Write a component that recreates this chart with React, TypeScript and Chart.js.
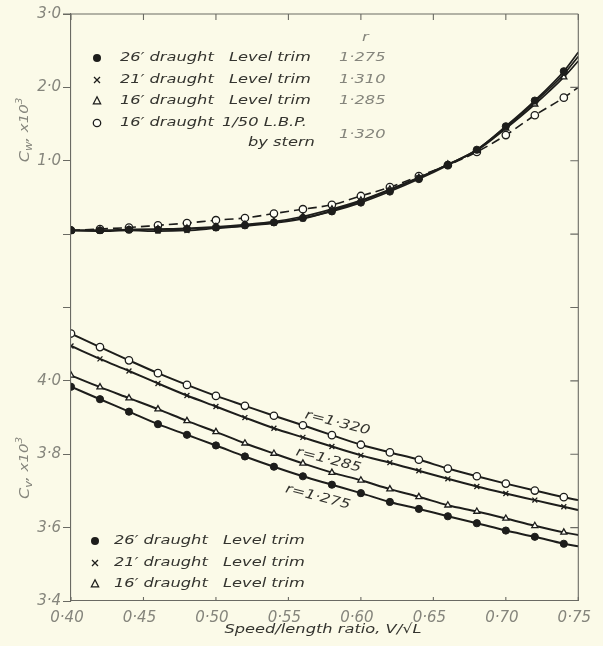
import React, { useEffect, useRef } from 'react';
import { Chart, registerables } from 'chart.js';

Chart.register(...registerables);

// ---------- data ----------
const speedRatio = [0.40, 0.42, 0.44, 0.46, 0.48, 0.50, 0.52, 0.54, 0.56, 0.58, 0.60, 0.62, 0.64, 0.66, 0.68, 0.70, 0.72, 0.74, 0.75];

// Cw x 10^3 (upper panel)
const cw26Level = [0.05, 0.05, 0.06, 0.06, 0.07, 0.09, 0.12, 0.16, 0.22, 0.31, 0.43, 0.58, 0.75, 0.94, 1.15, 1.47, 1.82, 2.22, 2.48];
const cw21Level = [0.05, 0.04, 0.05, 0.04, 0.05, 0.08, 0.11, 0.15, 0.21, 0.32, 0.45, 0.60, 0.77, 0.95, 1.15, 1.46, 1.80, 2.18, 2.42];
const cw16Level = [0.05, 0.05, 0.06, 0.07, 0.08, 0.10, 0.13, 0.17, 0.24, 0.34, 0.46, 0.61, 0.77, 0.95, 1.14, 1.44, 1.77, 2.14, 2.36];
const cw16Stern = [0.05, 0.07, 0.09, 0.12, 0.15, 0.19, 0.22, 0.28, 0.34, 0.40, 0.52, 0.64, 0.79, 0.94, 1.12, 1.35, 1.62, 1.86, 2.00];

// Cv x 10^3 (lower panel)
const cv26Level = [3.984, 3.950, 3.916, 3.882, 3.853, 3.824, 3.794, 3.766, 3.740, 3.717, 3.694, 3.670, 3.651, 3.631, 3.612, 3.592, 3.575, 3.556, 3.549];
const cv21Level = [4.095, 4.060, 4.027, 3.993, 3.960, 3.930, 3.900, 3.871, 3.846, 3.821, 3.797, 3.777, 3.755, 3.733, 3.712, 3.693, 3.675, 3.657, 3.648];
const cv16Level = [4.015, 3.983, 3.953, 3.923, 3.891, 3.861, 3.830, 3.802, 3.775, 3.750, 3.729, 3.705, 3.684, 3.661, 3.644, 3.625, 3.605, 3.587, 3.580];
const cv16Stern = [4.129, 4.092, 4.056, 4.021, 3.989, 3.959, 3.932, 3.905, 3.879, 3.852, 3.826, 3.805, 3.785, 3.761, 3.740, 3.720, 3.701, 3.683, 3.675];

// ticks
const xTicks = [0.40, 0.45, 0.50, 0.55, 0.60, 0.65, 0.70, 0.75];
const cwTicks = [1, 2];
const cvTicks = [3.6, 3.8, 4.0, 4.2, 4.4];

// legends
const topDraughts = ['26′ draught', '21′ draught', '16′ draught', '16′ draught'];
const topTrims = ['Level trim', 'Level trim', 'Level trim', '1/50 L.B.P.'];
const topTrimExtra = 'by stern';
const topR = ['1·275', '1·310', '1·285', '1·320'];
const markerKinds = ['filled', 'cross', 'triangle', 'open'];
const bottomDraughts = ['26′ draught', '21′ draught', '16′ draught'];
const bottomTrims = ['Level trim', 'Level trim', 'Level trim'];
const curveLabels = ['r=1·320', 'r=1·285', 'r=1·275'];
const curveLabelX = [0.5838, 0.5777, 0.5703];
const curveLabelY = [3.885, 3.784, 3.683];

// ---------- styles ----------
const BG = '#fbfae8';
const INK = '#1d1d1b';
const TEXT = '#34342f';
const GRAY = '#85857c';
const AXIS = '#6a6a63';
const FONT = '"DejaVu Sans", "Open Sans", sans-serif';
const STRETCH = 1.25;

const fmt = (v: number, d: number) => v.toFixed(d).replace('.', '·');

function sText(ctx: CanvasRenderingContext2D, text: string, x: number, y: number, size: number, align: CanvasTextAlign, color: string, rotate = 0) {
  ctx.save();
  ctx.translate(x, y);
  if (rotate) ctx.rotate(rotate);
  ctx.scale(STRETCH, 1);
  ctx.font = `italic ${size}px ${FONT}`;
  ctx.fillStyle = color;
  ctx.textAlign = align;
  ctx.textBaseline = 'middle';
  ctx.fillText(text, 0, 0);
  ctx.restore();
}

function drawMarker(ctx: CanvasRenderingContext2D, kind: string, x: number, y: number) {
  ctx.save();
  ctx.strokeStyle = INK;
  ctx.fillStyle = INK;
  ctx.lineWidth = 1.3;
  if (kind === 'filled') {
    ctx.beginPath(); ctx.arc(x, y, 4, 0, Math.PI * 2); ctx.fill();
  } else if (kind === 'open') {
    ctx.fillStyle = '#fffff6';
    ctx.beginPath(); ctx.arc(x, y, 3.7, 0, Math.PI * 2); ctx.fill(); ctx.stroke();
  } else if (kind === 'cross') {
    const s = 3;
    ctx.beginPath(); ctx.moveTo(x - s, y - s); ctx.lineTo(x + s, y + s); ctx.moveTo(x + s, y - s); ctx.lineTo(x - s, y + s); ctx.stroke();
  } else {
    ctx.beginPath(); ctx.moveTo(x, y - 4.2); ctx.lineTo(x + 3.6, y + 2.8); ctx.lineTo(x - 3.6, y + 2.8); ctx.closePath(); ctx.stroke();
  }
  ctx.restore();
}

function axisTitle(ctx: CanvasRenderingContext2D, cx: number, cy: number, sub: string) {
  const parts: [string, number, number][] = [['C', 14, 0], [sub, 10, 4], [', x10', 13, 0], ['3', 9, -5]];
  ctx.save();
  ctx.translate(cx, cy);
  ctx.rotate(-Math.PI / 2);
  ctx.scale(1.15, 1);
  ctx.fillStyle = GRAY;
  ctx.textBaseline = 'middle';
  ctx.textAlign = 'left';
  let total = 0;
  for (const [t, s] of parts) { ctx.font = `italic ${s}px ${FONT}`; total += ctx.measureText(t).width; }
  let x = -total / 2;
  for (const [t, s, dy] of parts) {
    ctx.font = `italic ${s}px ${FONT}`;
    ctx.fillText(t, x, dy);
    x += ctx.measureText(t).width;
  }
  ctx.restore();
}

const decorPlugin = {
  id: 'decor',
  beforeDraw(chart: any) {
    const ctx = chart.ctx as CanvasRenderingContext2D;
    ctx.save();
    ctx.fillStyle = BG;
    ctx.fillRect(0, 0, chart.width, chart.height);
    ctx.restore();
  },
  afterDraw(chart: any) {
    const ctx = chart.ctx as CanvasRenderingContext2D;
    const { left, right, top, bottom } = chart.chartArea;
    const xs = chart.scales.x, yw = chart.scales.yw, yv = chart.scales.yv;

    // frame (top & right) with inward ticks
    ctx.save();
    ctx.strokeStyle = AXIS;
    ctx.lineWidth = 1.1;
    ctx.beginPath();
    ctx.moveTo(left - 8, top); ctx.lineTo(right, top);
    ctx.moveTo(right, top); ctx.lineTo(right, bottom);
    ctx.stroke();
    ctx.beginPath();
    for (const v of xTicks) {
      const px = xs.getPixelForValue(v);
      ctx.moveTo(px, top); ctx.lineTo(px, top + 6);
      ctx.moveTo(px, bottom); ctx.lineTo(px, bottom - 4);
    }
    for (const v of cwTicks) {
      const py = yw.getPixelForValue(v);
      ctx.moveTo(right, py); ctx.lineTo(right - 8, py);
    }
    for (const v of cvTicks) {
      const py = yv.getPixelForValue(v);
      ctx.moveTo(right, py); ctx.lineTo(right - 8, py);
    }
    ctx.stroke();
    ctx.restore();

    // top legend
    const rowsTop = [58, 80, 101, 123];
    for (let i = 0; i < topDraughts.length; i++) {
      drawMarker(ctx, markerKinds[i], 97, rowsTop[i]);
      sText(ctx, topDraughts[i], 120, rowsTop[i], 13, 'left', TEXT);
      sText(ctx, topTrims[i], i === 3 ? 222 : 229, rowsTop[i], 13, 'left', TEXT);
      sText(ctx, topR[i], 339, i === 3 ? 135 : rowsTop[i], 13, 'left', GRAY);
    }
    sText(ctx, topTrimExtra, 248, 143, 13, 'left', TEXT);
    sText(ctx, 'r', 362, 38, 13, 'left', GRAY);

    // bottom legend
    const rowsBot = [541, 563, 584];
    for (let i = 0; i < bottomDraughts.length; i++) {
      drawMarker(ctx, markerKinds[i], 95, rowsBot[i]);
      sText(ctx, bottomDraughts[i], 114, rowsBot[i], 13, 'left', TEXT);
      sText(ctx, bottomTrims[i], 223, rowsBot[i], 13, 'left', TEXT);
    }

    // curve labels
    for (let i = 0; i < curveLabels.length; i++) {
      sText(ctx, curveLabels[i], xs.getPixelForValue(curveLabelX[i]), yv.getPixelForValue(curveLabelY[i]), 13, 'center', TEXT, 14.5 * Math.PI / 180);
    }

    // axis titles
    axisTitle(ctx, 25, 130, 'w');
    axisTitle(ctx, 25, 468, 'v');
    sText(ctx, 'Speed/length ratio, V/√L', 323, 630, 13, 'center', TEXT);
  },
};

const lastIdx = speedRatio.length - 1;
const pts = (ys: number[]) => speedRatio.map((x, i) => ({ x, y: ys[i] }));

function makeSet(ys: number[], axis: string, kind: string, width: number, dashed = false) {
  const style = kind === 'filled' || kind === 'open' ? 'circle' : kind === 'cross' ? 'crossRot' : 'triangle';
  const r = kind === 'open' ? 3.7 : kind === 'filled' ? 3.6 : 3.5;
  return {
    data: pts(ys),
    yAxisID: axis,
    borderColor: INK,
    borderWidth: width,
    borderDash: dashed ? [9, 5] : [],
    backgroundColor: kind === 'filled' ? INK : '#fffff6',
    pointStyle: style,
    pointRadius: (c: any) => (c.dataIndex === lastIdx ? 0 : r),
    pointBorderWidth: kind === 'filled' ? 1 : 1.3,
    pointBorderColor: INK,
    pointBackgroundColor: kind === 'filled' ? INK : '#fffff6',
    tension: 0.35,
    cubicInterpolationMode: 'monotone',
    fill: false,
  };
}

export default function App() {
  const ref = useRef<HTMLCanvasElement>(null);
  useEffect(() => {
    document.body.style.margin = '0';
    document.body.style.background = BG;
    const tickFont = { family: FONT, size: 15, style: 'italic' as const };
    const chart = new Chart(ref.current!, {
      type: 'line',
      data: {
        datasets: [
          makeSet(cv26Level, 'yv', 'filled', 2),
          makeSet(cv21Level, 'yv', 'cross', 2),
          makeSet(cv16Level, 'yv', 'triangle', 2),
          makeSet(cv16Stern, 'yv', 'open', 2),
          makeSet(cw26Level, 'yw', 'filled', 1.7),
          makeSet(cw21Level, 'yw', 'cross', 1.7),
          makeSet(cw16Level, 'yw', 'triangle', 1.7),
          makeSet(cw16Stern, 'yw', 'open', 1.6, true),
        ] as any,
      },
      options: {
        animation: false,
        responsive: false,
        layout: { padding: { top: 14, right: 10, left: 0, bottom: 0 } },
        plugins: { legend: { display: false }, tooltip: { enabled: false } },
        scales: {
          x: {
            type: 'linear',
            min: 0.40,
            max: 0.75,
            afterFit: (s: any) => { s.height = 45; },
            grid: { drawOnChartArea: false, drawTicks: false },
            border: { color: AXIS, width: 1.1 },
            ticks: {
              stepSize: 0.05,
              padding: 8,
              labelOffset: -4,
              autoSkip: false,
              maxRotation: 0,
              color: GRAY,
              font: tickFont,
              callback: (v: any) => fmt(Number(v), 2),
            },
          },
          yv: {
            type: 'linear',
            position: 'left',
            stack: 'y',
            stackWeight: 5,
            min: 3.4,
            max: 4.4,
            afterFit: (s: any) => { s.width = 71; },
            grid: { drawOnChartArea: false, drawTicks: true, tickLength: 8, tickColor: AXIS },
            border: { color: AXIS, width: 1.1 },
            ticks: {
              stepSize: 0.2,
              padding: 2,
              color: GRAY,
              font: tickFont,
              callback: (v: any) => (Number(v) <= 4.001 ? fmt(Number(v), 1) : ''),
            },
          },
          yw: {
            type: 'linear',
            position: 'left',
            stack: 'y',
            stackWeight: 3,
            min: 0,
            max: 3,
            afterFit: (s: any) => { s.width = 71; },
            grid: { drawOnChartArea: false, drawTicks: true, tickLength: 8, tickColor: AXIS },
            border: { color: AXIS, width: 1.1 },
            ticks: {
              stepSize: 1,
              padding: 2,
              color: GRAY,
              font: tickFont,
              callback: (v: any) => (Number(v) === 0 ? '' : fmt(Number(v), 1)),
            },
          },
        } as any,
      },
      plugins: [decorPlugin],
    });
    return () => chart.destroy();
  }, []);
  return (
    <div style={{ width: 603, height: 646 }}>
      <canvas ref={ref} width={603} height={646} style={{ display: 'block' }} />
    </div>
  );
}
